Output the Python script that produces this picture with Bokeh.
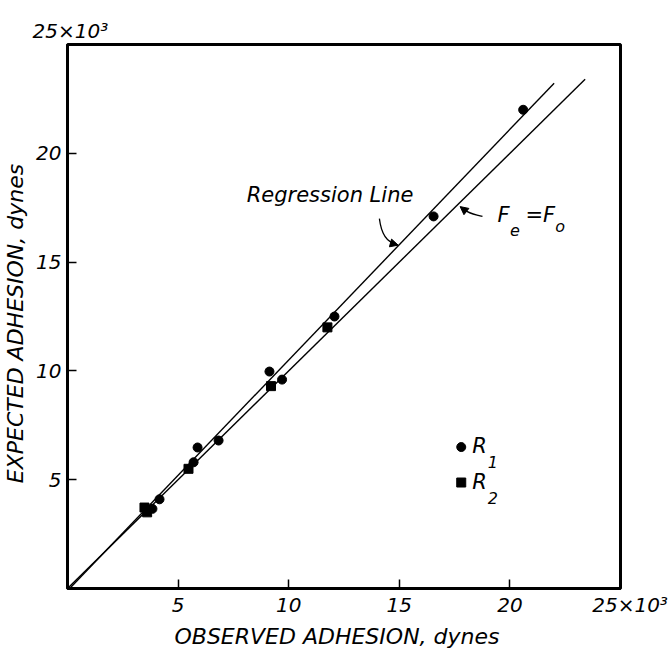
from bokeh.plotting import figure
from bokeh.models import Range1d, Label, Arrow, NormalHead, FixedTicker
from bokeh.embed import file_html
from bokeh.resources import INLINE

# data (units of 10^3 dynes)
r1_obs = [20.6, 16.55, 9.13, 9.7, 12.07, 5.88, 6.83, 5.7, 4.16, 3.84]
r1_exp = [22.0, 17.1, 9.97, 9.6, 12.5, 6.48, 6.8, 5.8, 4.1, 3.66]
r2_obs = [9.2, 11.75, 5.47, 3.48, 3.6]
r2_exp = [9.3, 12.0, 5.5, 3.72, 3.5]

feq_x = [0.0, 23.4]
feq_y = [0.0, 23.4]
reg_x = [0.15, 22.0]
reg_y = [0.06, 23.22]

x_ticks = [5, 10, 15, 20, 25]
y_ticks = [5, 10, 15, 20]
corner_label = "25\u00d710\u00b3"

FONT = "DejaVu Sans"

p = figure(width=672, height=654, output_backend="svg", toolbar_location=None,
           x_range=Range1d(0, 25), y_range=Range1d(0, 25),
           min_border_left=67, min_border_right=52, min_border_top=44, min_border_bottom=66)
p.grid.visible = False
p.outline_line_color = "black"
p.outline_line_width = 3
p.background_fill_color = "white"
p.border_fill_color = "white"

p.title.text = corner_label
p.title.align = "left"
p.title.offset = -35
p.title.text_font = FONT
p.title.text_font_style = "italic"
p.title.text_font_size = "20px"
p.title.text_color = "black"
p.title.standoff = 4

p.xaxis[0].ticker = FixedTicker(ticks=x_ticks)
p.yaxis[0].ticker = FixedTicker(ticks=y_ticks)
p.xaxis[0].major_label_overrides = {25: "\u00a0\u00a0\u00a0" + corner_label}

for ax in (p.xaxis[0], p.yaxis[0]):
    ax.major_tick_in = 9
    ax.major_tick_out = 0
    ax.minor_tick_line_color = None
    ax.axis_line_width = 3
    ax.major_tick_line_width = 1.5
    ax.major_label_text_font = FONT
    ax.major_label_text_font_style = "italic"
    ax.major_label_text_font_size = "20px"
    ax.major_label_text_color = "black"
    ax.axis_label_text_font = FONT
    ax.axis_label_text_font_style = "italic"
    ax.axis_label_text_font_size = "22px"
    ax.axis_label_text_color = "black"

p.xaxis.axis_label = "OBSERVED  ADHESION,  dynes"
p.yaxis.axis_label = "EXPECTED  ADHESION,  dynes"
p.xaxis.major_label_standoff = 4
p.yaxis.major_label_standoff = 6
p.xaxis.axis_label_standoff = 4
p.yaxis.axis_label_standoff = 5
p.yaxis.major_label_orientation = "horizontal"

# lines
p.line(feq_x, feq_y, line_color="black", line_width=1.4)
p.line(reg_x, reg_y, line_color="black", line_width=1.4)

# points
p.scatter(r1_obs, r1_exp, marker="circle", size=9, fill_color="black", line_color="black")
p.scatter(r2_obs, r2_exp, marker="square", size=9, fill_color="black", line_color="black")

# legend (drawn by hand)
p.scatter([17.8], [6.5], marker="circle", size=9, fill_color="black", line_color="black")
p.scatter([17.8], [4.87], marker="square", size=9, fill_color="black", line_color="black")

def txt(x, y, s, size="20px", **kw):
    p.add_layout(Label(x=x, y=y, text=s, text_font=FONT, text_font_style="italic",
                       text_font_size=size, text_color="black", **kw))

txt(18.3, 6.0, "R", size="21px")
txt(19.0, 5.55, "1", size="16px")
txt(18.3, 4.35, "R", size="21px")
txt(19.0, 3.9, "2", size="16px")

txt(8.1, 17.55, "Regression  Line", size="21px")
txt(19.44, 16.6, "F", size="21px")
txt(20.0, 16.2, "e", size="16px")
txt(20.7, 16.6, "=", size="21px")
txt(21.5, 16.6, "F", size="21px")
txt(22.05, 16.2, "o", size="16px")

# arrows
p.bezier(x0=[14.1], y0=[17.0], x1=[14.85], y1=[15.85], cx0=[14.2], cy0=[16.2], cx1=[14.5], cy1=[15.9],
         line_color="black", line_width=1.3)
p.add_layout(Arrow(end=NormalHead(size=8, fill_color="black", line_color="black"),
                   x_start=14.6, y_start=15.88, x_end=14.95, y_end=15.78,
                   line_color="black", line_width=1.3))
p.bezier(x0=[18.76], y0=[17.1], x1=[17.95], y1=[17.4], cx0=[18.4], cy0=[17.2], cx1=[18.2], cy1=[17.2],
         line_color="black", line_width=1.3)
p.add_layout(Arrow(end=NormalHead(size=8, fill_color="black", line_color="black"),
                   x_start=18.0, y_start=17.35, x_end=17.75, y_end=17.55,
                   line_color="black", line_width=1.3))

open("out.html", "w").write(file_html(p, INLINE))
